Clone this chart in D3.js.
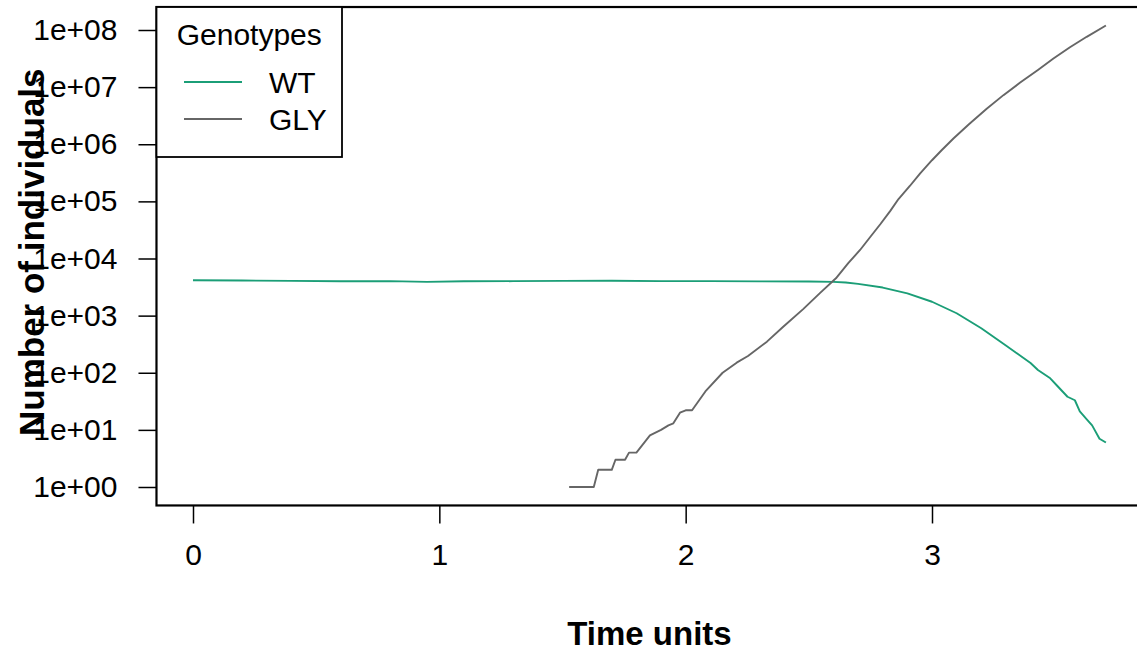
<!DOCTYPE html>
<html><head><meta charset="utf-8">
<script src="https://cdn.jsdelivr.net/npm/d3@7"></script>
<style>
body{margin:0;background:#fff;}
svg{display:block;font-family:"Liberation Sans",Arial,sans-serif;}
</style></head><body>
<svg id="chart" width="1137" height="653"></svg>
<script>
// ---- data ----
const wtTime = [0, 0.2, 0.4, 0.6, 0.8, 0.95, 1.1, 1.3, 1.5, 1.7, 1.9, 2.1, 2.3, 2.5, 2.6, 2.65, 2.7, 2.8, 2.9, 3.0, 3.1, 3.2, 3.3, 3.4, 3.43, 3.48, 3.51, 3.55, 3.58, 3.6, 3.63, 3.65, 3.68, 3.706];
const wtCount = [4150, 4120, 4050, 4000, 4020, 3900, 4000, 4010, 4060, 4080, 4020, 4010, 3980, 3950, 3900, 3800, 3600, 3100, 2450, 1750, 1100, 600, 300, 148, 112, 80, 58, 38, 33, 21, 15, 12, 7, 6];
const glyTime = [1.527, 1.627, 1.645, 1.70, 1.715, 1.754, 1.77, 1.80, 1.855, 1.90, 1.93, 1.95, 1.977, 2.0, 2.026, 2.08, 2.15, 2.207, 2.253, 2.33, 2.396, 2.477, 2.546, 2.61, 2.66, 2.708, 2.75, 2.79, 2.83, 2.864, 2.91, 2.952, 3.0, 3.04, 3.087, 3.15, 3.222, 3.29, 3.358, 3.43, 3.493, 3.56, 3.628, 3.706];
const glyCount = [1, 1, 2, 2, 3, 3, 4, 4, 8, 10, 12, 13, 20, 22, 22, 47, 100, 150, 196, 350, 640, 1300, 2500, 4500, 8300, 14100, 24000, 39800, 67600, 110000, 186000, 309000, 525000, 794000, 1260000, 2240000, 4170000, 7240000, 12000000, 20000000, 31600000, 50000000, 76000000, 120000000];
const xTicks = [0, 1, 2, 3];
const yTicks = [1, 1e1, 1e2, 1e3, 1e4, 1e5, 1e6, 1e7, 1e8];
const yTickLabels = ["1e+00","1e+01","1e+02","1e+03","1e+04","1e+05","1e+06","1e+07","1e+08"];
const seriesNames = ["WT", "GLY"];
const seriesColors = ["#1B9E77", "#666666"];

// ---- scales ----
const svg = d3.select("#chart");
const x = d3.scaleLinear().domain([0, 3]).range([193, 932]);
const y = d3.scaleLog().domain([1, 1e8]).range([487, 30]);

// plot box (R style 4% expansion)
const xMin = 0, xMax = d3.max(wtTime.concat(glyTime));
const lMin = 0, lMax = Math.log10(d3.max(glyCount));
const xPad = (xMax - xMin) * 0.04, lPad = (lMax - lMin) * 0.04;
const bx0 = x(xMin - xPad), bx1 = x(xMax + xPad);
const by0 = y(Math.pow(10, lMax + lPad)), by1 = y(Math.pow(10, lMin - lPad));

// lines
const line = d3.line().x(d => x(d[0])).y(d => y(d[1]));
const series = [d3.zip(wtTime, wtCount), d3.zip(glyTime, glyCount)];
series.forEach((s, i) => {
  svg.append("path").datum(s).attr("d", line)
    .attr("fill", "none").attr("stroke", seriesColors[i]).attr("stroke-width", 1.9)
    .attr("stroke-linejoin", "round");
});

// axes
const fs = 30;
const xAxis = d3.axisBottom(x).tickValues(xTicks).tickSize(18).tickPadding(20).tickFormat(d3.format("d"));
const gx = svg.append("g").attr("transform", `translate(0,${by1})`).call(xAxis);
gx.select(".domain").remove();
gx.selectAll("line").attr("stroke", "#000").attr("stroke-width", 1.5);
gx.selectAll("text").attr("font-size", fs).attr("fill", "#000").attr("font-family", "Liberation Sans, Arial, sans-serif");

const yAxis = d3.axisLeft(y).tickValues(yTicks).tickSize(18).tickPadding(21)
  .tickFormat((d, i) => yTickLabels[i]);
const gy = svg.append("g").attr("transform", `translate(${bx0},0)`).call(yAxis);
gy.select(".domain").remove();
gy.selectAll("line").attr("stroke", "#000").attr("stroke-width", 1.5);
gy.selectAll("text").attr("font-size", fs).attr("fill", "#000").attr("font-family", "Liberation Sans, Arial, sans-serif");

// box
svg.append("rect").attr("x", bx0).attr("y", by0).attr("width", bx1 - bx0).attr("height", by1 - by0)
  .attr("fill", "none").attr("stroke", "#000").attr("stroke-width", 2.2);

// axis titles
svg.append("text").attr("x", (bx0 + bx1) / 2).attr("y", 645).attr("text-anchor", "middle")
  .attr("font-size", 33).attr("font-weight", "bold").text("Time units");
svg.append("text").attr("transform", `translate(44,${(by0 + by1) / 2 - 4}) rotate(-90)`).attr("text-anchor", "middle")
  .attr("font-size", 35).attr("font-weight", "bold").text("Number of individuals");

// legend
const lg = svg.append("g");
lg.append("rect").attr("x", bx0).attr("y", by0).attr("width", 342 - bx0).attr("height", 157 - by0)
  .attr("fill", "#fff").attr("stroke", "#000").attr("stroke-width", 1.8);
lg.append("text").attr("x", (bx0 + 342) / 2).attr("y", 45).attr("text-anchor", "middle")
  .attr("font-size", fs).text("Genotypes");
seriesNames.forEach((n, i) => {
  const yy = 82 + i * 37;
  lg.append("line").attr("x1", 184).attr("x2", 242).attr("y1", yy).attr("y2", yy)
    .attr("stroke", seriesColors[i]).attr("stroke-width", 1.9);
  lg.append("text").attr("x", 269).attr("y", yy + 11).attr("font-size", fs).text(n);
});
</script>
</body></html>
